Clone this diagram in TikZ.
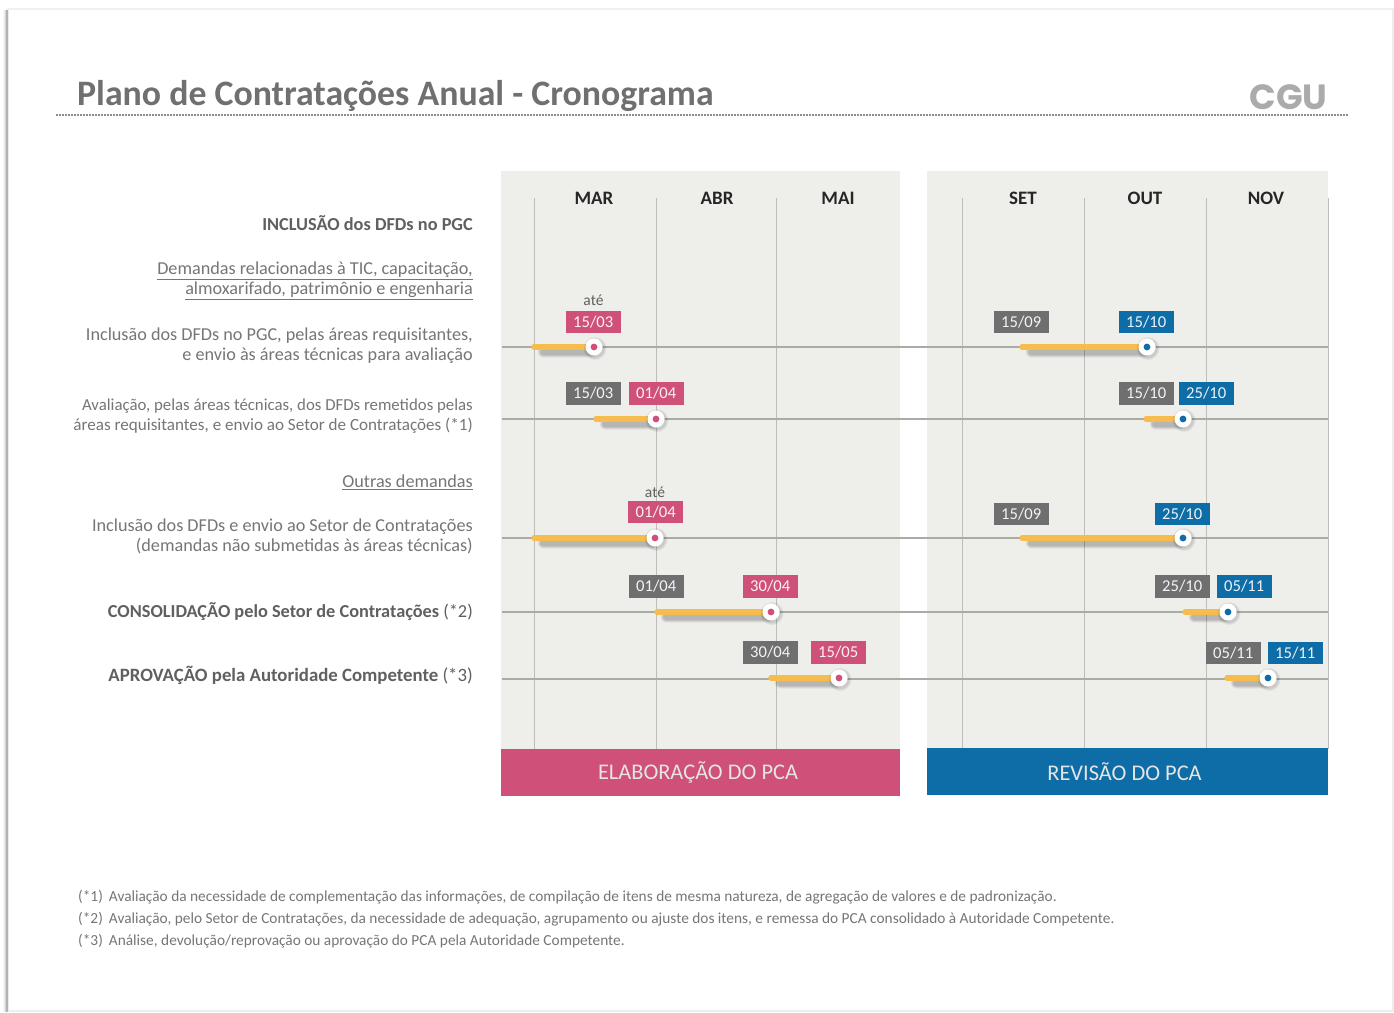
\documentclass[tikz,border=0pt]{standalone}
\usepackage{fontspec}
\setmainfont{Carlito}
\newfontfamily\logofont{Poppins}
\usetikzlibrary{calc}
\definecolor{panel}{HTML}{EEEFEB}
\definecolor{pinkc}{HTML}{CF5078}
\definecolor{bluec}{HTML}{0E6CA6}
\definecolor{grayb}{HTML}{6F6F6F}
\definecolor{barc}{HTML}{F6BC4E}
\definecolor{gridc}{HTML}{BDBEBA}
\definecolor{rowc}{HTML}{ABABA6}
\definecolor{txt}{HTML}{767676}
\definecolor{txtd}{HTML}{606060}
\tikzset{
  badge/.style={fill=#1,text=white!92!#1,minimum width=55pt,minimum height=22.5pt,inner sep=0pt,font=\fontsize{16.6}{18}\selectfont,anchor=center},
  rowlabel/.style={anchor=east,align=right,text=txt,font=\fontsize{18.2}{20}\selectfont,inner sep=0pt},
  tightlabel/.style={rowlabel,font=\fontsize{16.9}{20}\selectfont},
  boldlabel/.style={anchor=east,align=right,text=txtd,font=\fontsize{18.3}{20}\selectfont,inner sep=0pt},
  month/.style={text=black!85,font=\bfseries\fontsize{19}{20}\selectfont,inner sep=0pt},
  ate/.style={text=txtd,font=\fontsize{15.5}{16}\selectfont,inner sep=0pt},
  foot/.style={anchor=west,text=txt,font=\fontsize{15.35}{16}\selectfont,inner sep=0pt},
  band/.style={text=white!90!black,font=\fontsize{22.4}{23}\selectfont,minimum height=47pt,inner sep=0pt},
  gridline/.style={draw=gridc,line width=1pt},
  rowline/.style={draw=rowc,line width=1.5pt},
  barline/.style={draw=barc,line width=5.5pt,line cap=round},
  dotnode/.style={circle,fill=white,minimum size=17pt,inner sep=0pt},
}
% badge: name, x, y, colour, text
\newcommand{\bdg}[5]{\node[badge=#4] (#1) at (#2-0.8,#3) {\raisebox{-1pt}{#5}};}
% bar: name, start x, end x, y, colour
\newcommand{\tbar}[5]{%
  \coordinate (#1s) at (#2,#4);
  \node[dotnode] (#1) at (#3,#4) {};
  \foreach \w in {11,10,9,8,7,6,5}{
    \draw[black,opacity=0.035,line width=\w pt,line cap=round] ($(#1s)+(9,5)$) -- ($(#1)+(-2,5)$);
  }
  \draw[barline] (#1s) -- (#1);
  \foreach \r in {11.5,10.5,9.5}{\fill[black,opacity=0.05] ($(#1)+(1,1.5)$) circle[radius=\r];}
  \node[dotnode] at (#1) {};
  \fill[#5] (#1) circle[radius=3.4];
}
\begin{document}
\begin{tikzpicture}[x=1pt,y=-1pt]
\useasboundingbox (0,0) rectangle (1394,1012);
% sheet
\fill[white] (0,0) rectangle (1394,1012);
\fill[black!6] (7,8) rectangle (1394,10);
\foreach \x/\o in {3/0.03,4/0.08,5/0.16,6/0.3,7/0.3,8/0.08}{\fill[black,opacity=\o] (\x,10) rectangle (\x+1,1012);}
\fill[black!7] (1392,10) rectangle (1394,1012);
\fill[black!7] (9,1010) rectangle (1394,1012);
% header
\node[anchor=west,inner sep=0pt,text=txtd!90!white,font=\bfseries\fontsize{35.8}{36}\selectfont] (title) at (77,95.5) {Plano de Contratações Anual - Cronograma};
\node[anchor=center,inner sep=0pt,text=black!33,font=\logofont\bfseries\fontsize{35}{36}\selectfont] (cgu) at (1288.5,97) {CGU};
\coordinate (ruleL) at (56,115);
\coordinate (ruleR) at (1349,115);
\draw[black!45,line width=1.6pt,dash pattern=on 1.5pt off 1.5pt] (ruleL) -- (ruleR);
% panels
\fill[panel] (501,171) rectangle (900,749);
\fill[panel] (927,171) rectangle (1328,749);
% vertical grid
\foreach \n/\x in {g1/534,g2/656,g3/776,g4/962,g5/1084,g6/1206,g7/1328}{
  \coordinate (\n t) at (\x,198);
  \coordinate (\n b) at (\x,749);
  \draw[gridline] (\n t) -- (\n b);
}
% month labels
\node[month] (mar) at (594,198) {MAR};
\node[month] (abr) at (717,198) {ABR};
\node[month] (mai) at (838,198) {MAI};
\node[month] (set) at (1023,198) {SET};
\node[month] (out) at (1145,198) {OUT};
\node[month] (nov) at (1266,198) {NOV};
% row lines
\foreach \n/\y in {r1/347,r2/419,r3/538,r4/612,r5/679}{
  \coordinate (\n a) at (502,\y);
  \coordinate (\n b) at (1328,\y);
  \draw[rowline] (\n a) -- (\n b);
}
% left labels
\node[boldlabel] (l1) at (473,223.5) {\textbf{INCLUSÃO dos DFDs no PGC}};
\node[rowlabel] (l2a) at (473,270.5) {\underline{Demandas relacionadas à TIC, capacitação,}};
\node[rowlabel] (l2b) at (473,290.5) {\underline{almoxarifado, patrimônio e engenharia}};
\node[rowlabel] (l3a) at (473,336) {Inclusão dos DFDs no PGC, pelas áreas requisitantes,};
\node[rowlabel] (l3b) at (473,356) {e envio às áreas técnicas para avaliação};
\node[tightlabel,font=\fontsize{16.8}{20}\selectfont] (l4a) at (473,406) {Avaliação, pelas áreas técnicas, dos DFDs remetidos pelas};
\node[tightlabel,font=\fontsize{17.1}{20}\selectfont] (l4b) at (473,426) {áreas requisitantes, e envio ao Setor de Contratações (*1)};
\node[rowlabel] (l5) at (473,482) {\underline{Outras demandas}};
\node[rowlabel] (l6a) at (473,527) {Inclusão dos DFDs e envio ao Setor de Contratações};
\node[rowlabel] (l6b) at (473,546) {(demandas não submetidas às áreas técnicas)};
\node[boldlabel] (l7) at (473,612) {\textbf{CONSOLIDAÇÃO pelo Setor de Contratações} (*2)};
\node[boldlabel,font=\fontsize{18.8}{20}\selectfont] (l8) at (473,675) {\textbf{APROVAÇÃO pela Autoridade Competente} (*3)};
% bars
\tbar{a1}{534}{594}{347}{pinkc}
\tbar{a2}{596}{656}{419}{pinkc}
\tbar{a3}{534}{655}{538}{pinkc}
\tbar{a4}{657}{771}{612}{pinkc}
\tbar{a5}{771}{839}{678}{pinkc}
\tbar{b1}{1022}{1147}{347}{bluec}
\tbar{b2}{1146}{1183}{419}{bluec}
\tbar{b3}{1022}{1183}{538}{bluec}
\tbar{b4}{1185}{1228}{612}{bluec}
\tbar{b5}{1227}{1268}{678}{bluec}
% badges
\node[ate] (ate1) at (593.5,300.5) {até};
\bdg{d1}{594}{322}{pinkc}{15/03}
\bdg{d2}{594}{393.5}{grayb}{15/03}
\bdg{d3}{657}{393.5}{pinkc}{01/04}
\node[ate] (ate2) at (655,492.5) {até};
\bdg{d4}{656.5}{512}{pinkc}{01/04}
\bdg{d5}{657}{586.5}{grayb}{01/04}
\bdg{d6}{771}{586.5}{pinkc}{30/04}
\bdg{d7}{771}{652.5}{grayb}{30/04}
\bdg{d8}{839}{652.5}{pinkc}{15/05}
\bdg{e1}{1022}{322}{grayb}{15/09}
\bdg{e2}{1147}{322}{bluec}{15/10}
\bdg{e3}{1147}{393.5}{grayb}{15/10}
\bdg{e4}{1207}{393.5}{bluec}{25/10}
\bdg{e5}{1022}{514}{grayb}{15/09}
\bdg{e6}{1183}{514}{bluec}{25/10}
\bdg{e7}{1183}{586.5}{grayb}{25/10}
\bdg{e8}{1245}{586.5}{bluec}{05/11}
\bdg{e9}{1234}{653}{grayb}{05/11}
\bdg{e10}{1296}{653}{bluec}{15/11}
% bands
\node[band,fill=pinkc,minimum width=399pt] (elab) at (700.5,772) {\raisebox{0.8pt}{\hspace{-5pt}ELABORAÇÃO DO PCA}};
\node[band,fill=bluec,minimum width=401pt] (rev) at (1127.5,771.5) {\hspace{-6pt}REVISÃO DO PCA};
% footnotes
\node[foot] (f1) at (78,897) {(*1)\hspace{6pt}Avaliação da necessidade de complementação das informações, de compilação de itens de mesma natureza, de agregação de valores e de padronização.};
\node[foot] (f2) at (78,919) {(*2)\hspace{6pt}Avaliação, pelo Setor de Contratações, da necessidade de adequação, agrupamento ou ajuste dos itens, e remessa do PCA consolidado à Autoridade Competente.};
\node[foot] (f3) at (78,941.5) {(*3)\hspace{6pt}Análise, devolução/reprovação ou aprovação do PCA pela Autoridade Competente.};
\end{tikzpicture}
\end{document}
